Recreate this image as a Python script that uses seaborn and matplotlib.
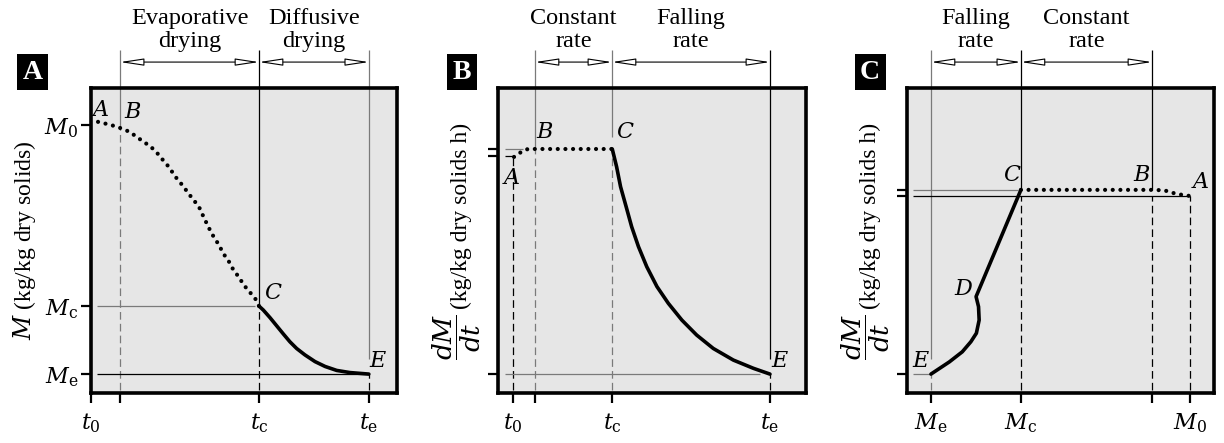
import matplotlib
matplotlib.use("Agg")
import matplotlib.pyplot as plt
import pandas as pd
import seaborn as sns

# ---------------- data (normalised axis units, 0..1) ----------------
# Panel A: moisture content M against drying time t
a_xticks = [0.0, 0.095, 0.549, 0.908]
a_xticklabels = [r"$t_0$", "", r"$t_\mathrm{c}$", r"$t_\mathrm{e}$"]
a_yticks = [0.062, 0.285, 0.879]
a_yticklabels = [r"$M_\mathrm{e}$", r"$M_\mathrm{c}$", r"$M_0$"]
a_evap_t = [0.023, 0.052, 0.078, 0.095, 0.127, 0.150, 0.173, 0.196, 0.216,
            0.235, 0.252, 0.268, 0.284, 0.301, 0.317, 0.333, 0.353, 0.369,
            0.382, 0.395, 0.412, 0.425, 0.438, 0.454, 0.467, 0.484, 0.497,
            0.516, 0.536, 0.549]
a_evap_m = [0.889, 0.882, 0.875, 0.869, 0.856, 0.839, 0.823, 0.807, 0.787,
            0.764, 0.744, 0.721, 0.698, 0.679, 0.656, 0.636, 0.610, 0.575,
            0.548, 0.522, 0.495, 0.472, 0.449, 0.426, 0.400, 0.380, 0.357,
            0.334, 0.311, 0.285]
a_diff_t = [0.549, 0.563, 0.585, 0.607, 0.629, 0.650, 0.672, 0.699, 0.732,
            0.765, 0.803, 0.846, 0.908]
a_diff_m = [0.285, 0.272, 0.247, 0.220, 0.193, 0.168, 0.146, 0.125, 0.103,
            0.087, 0.074, 0.067, 0.062]

# Panel B: drying rate dM/dt against time t
b_xticks = [0.049, 0.120, 0.370, 0.883]
b_xticklabels = [r"$t_0$", "", r"$t_\mathrm{c}$", r"$t_\mathrm{e}$"]
b_yticks = [0.062, 0.777, 0.800]
b_const_t = [0.052, 0.075, 0.097, 0.371]
b_const_r = [0.774, 0.790, 0.800, 0.800]
b_fall_t = [0.371, 0.385, 0.398, 0.416, 0.434, 0.456, 0.483, 0.516, 0.553,
            0.597, 0.645, 0.699, 0.764, 0.829, 0.883]
b_fall_r = [0.800, 0.742, 0.676, 0.611, 0.545, 0.480, 0.414, 0.349, 0.294,
            0.239, 0.190, 0.146, 0.108, 0.081, 0.062]

# Panel C: drying rate dM/dt against moisture content M
c_xticks = [0.078, 0.371, 0.798, 0.922]
c_xticklabels = [r"$M_\mathrm{e}$", r"$M_\mathrm{c}$", "", r"$M_0$"]
c_yticks = [0.062, 0.646, 0.666]
c_const_m = [0.371, 0.808, 0.840, 0.866, 0.899, 0.922]
c_const_r = [0.666, 0.666, 0.664, 0.656, 0.649, 0.646]
c_fall_m = [0.371, 0.225, 0.233, 0.235, 0.226, 0.208, 0.180, 0.138, 0.078]
c_fall_r = [0.666, 0.316, 0.283, 0.239, 0.196, 0.168, 0.135, 0.102, 0.062]

# ---------------- style ----------------
sns.set_theme(style="white", rc={
    "text.color": "black", "axes.labelcolor": "black",
    "xtick.color": "black", "ytick.color": "black",
    "axes.edgecolor": "black", "lines.scale_dashes": False,
})
plt.rcParams["font.family"] = ["Liberation Serif", "DejaVu Serif"]
plt.rcParams["mathtext.fontset"] = "dejavuserif"

GREY = "#7a7a7a"
DASH = (0, (5.5, 3.0))
DOTS = (0, (0.01, 5.5))
TOP = 1.125      # upper end of the phase guide lines
BRACKET = 1.085  # height of the phase arrows
TXT = 17.5

fig = plt.figure(figsize=(12.24, 4.43), dpi=100)
bottom, height = 50 / 443, 305 / 443
axA = fig.add_axes([91 / 1224, bottom, 306 / 1224, height])
axB = fig.add_axes([498 / 1224, bottom, 308 / 1224, height])
axC = fig.add_axes([907 / 1224, bottom, 307 / 1224, height])


def frame(ax, xt, xl, yt, yl):
    ax.set_facecolor("#e6e6e6")
    ax.set_xlim(0, 1)
    ax.set_ylim(0, 1)
    for s in ax.spines.values():
        s.set_linewidth(2.6)
        s.set_color("black")
        s.set_zorder(5)
    ax.set_xticks(xt)
    ax.set_xticklabels(xl)
    ax.set_yticks(yt)
    ax.set_yticklabels(yl)
    ax.tick_params(axis="both", direction="out", length=7, width=1.6,
                   bottom=True, left=True, labelsize=16)
    ax.tick_params(axis="x", pad=6)
    ax.tick_params(axis="y", pad=2)


def seg(ax, xs, ys, color, dashed=False, lw=0.9):
    ax.plot(xs, ys, color=color, lw=lw, ls=DASH if dashed else "-",
            clip_on=False, zorder=2, solid_capstyle="butt")


def curve(ax, xs, ys, dotted):
    df = pd.DataFrame({"x": xs, "y": ys})
    if dotted:
        sns.lineplot(data=df, x="x", y="y", ax=ax, sort=False, estimator=None,
                     color="black", lw=3.0, linestyle=DOTS,
                     dash_capstyle="round", zorder=3)
    else:
        sns.lineplot(data=df, x="x", y="y", ax=ax, sort=False, estimator=None,
                     color="black", lw=2.6, solid_capstyle="round",
                     solid_joinstyle="round", zorder=3)
    ax.set_xlabel("")
    ax.set_ylabel("")


def phases(ax, x0, x1, x2, t1, t2):
    for a, b in [(x0, x1), (x1, x2)]:
        ax.annotate("", xy=(b, BRACKET), xytext=(a, BRACKET),
                    xycoords="data", textcoords="data", annotation_clip=False,
                    arrowprops=dict(arrowstyle="<|-|>,head_length=1.45,head_width=0.22",
                                    facecolor="white", edgecolor="black", lw=0.8,
                                    shrinkA=0, shrinkB=0, mutation_scale=10))
    for (a, b), t in zip([(x0, x1), (x1, x2)], [t1, t2]):
        ax.text((a + b) / 2, 1.19, t, ha="center", va="center", fontsize=TXT,
                linespacing=1.12, clip_on=False)


def badge(ax, x, letter):
    ax.text(x, 1.052, letter, transform=ax.transAxes, ha="center", va="center",
            color="white", fontsize=20, fontweight="bold",
            bbox=dict(boxstyle="square,pad=0.2", fc="black", ec="none"))


def point(ax, x, y, name):
    ax.text(x, y, "$" + name + "$", ha="center", va="center", fontsize=16,
            zorder=4)


def rate_label(ax):
    ax.set_ylabel(r"$\dfrac{dM}{dt}$", fontsize=19, ha="center", va="center")
    ax.yaxis.set_label_coords(-0.133, 0.185)
    ax.text(-0.12, 0.582, "(kg/kg dry solids h)", transform=ax.transAxes,
            rotation=90, ha="center", va="center", fontsize=17)


# ---------------- panel A ----------------
frame(axA, a_xticks, a_xticklabels, a_yticks, a_yticklabels)
t0, tb, tc, te = a_xticks
me, mc, m0 = a_yticks
seg(axA, [tb, tb], [a_evap_m[3], TOP], GREY)
seg(axA, [tb, tb], [0.01, a_evap_m[3]], GREY, dashed=True)
seg(axA, [tc, tc], [mc, TOP], "black")
seg(axA, [tc, tc], [0.01, mc], "black", dashed=True)
seg(axA, [te, te], [0.11, TOP], GREY)
seg(axA, [te, te], [0.01, me], "black", dashed=True)
seg(axA, [0.02, 0.537], [mc, mc], GREY)
seg(axA, [0.02, te], [me, me], "black")
curve(axA, a_evap_t, a_evap_m, dotted=True)
curve(axA, a_diff_t, a_diff_m, dotted=False)
point(axA, 0.029, 0.925, "A")
point(axA, 0.137, 0.918, "B")
point(axA, 0.595, 0.325, "C")
point(axA, 0.938, 0.102, "E")
phases(axA, tb, tc, te, "Evaporative\ndrying", "Diffusive\ndrying")
badge(axA, -0.191, "A")
axA.set_ylabel(r"$M$ (kg/kg dry solids)", fontsize=17, ha="center", va="center")
axA.yaxis.set_label_coords(-0.216, 0.502)

# ---------------- panel B ----------------
frame(axB, b_xticks, b_xticklabels, b_yticks, ["", "", ""])
t0, tb, tc, te = b_xticks
rE, rA, rB = b_yticks
seg(axB, [t0, t0], [0.01, b_const_r[0]], "black", dashed=True)
seg(axB, [0.023, t0], [rA, rA], "black")
seg(axB, [0.023, 0.082], [rB, rB], GREY)
seg(axB, [tb, tb], [rB, TOP], GREY)
seg(axB, [tb, tb], [0.01, rB], GREY, dashed=True)
seg(axB, [tc, tc], [0.84, TOP], GREY)
seg(axB, [tc, tc], [0.01, rB], GREY, dashed=True)
seg(axB, [te, te], [0.11, TOP], "black")
seg(axB, [te, te], [0.01, rE], "black", dashed=True)
seg(axB, [0.023, 0.851], [rE, rE], GREY)
curve(axB, b_const_t, b_const_r, dotted=True)
curve(axB, b_fall_t, b_fall_r, dotted=False)
point(axB, 0.042, 0.702, "A")
point(axB, 0.153, 0.852, "B")
point(axB, 0.412, 0.852, "C")
point(axB, 0.916, 0.102, "E")
phases(axB, tb, tc, te, "Constant\nrate", "Falling\nrate")
badge(axB, -0.117, "B")
rate_label(axB)

# ---------------- panel C ----------------
frame(axC, c_xticks, c_xticklabels, c_yticks, ["", "", ""])
me, mc, mb, m0 = c_xticks
rE, rA, rC = c_yticks
seg(axC, [me, me], [0.11, TOP], GREY)
seg(axC, [me, me], [0.01, rE], GREY, dashed=True)
seg(axC, [0.02, me], [rE, rE], GREY)
seg(axC, [mc, mc], [rC, TOP], "black")
seg(axC, [mc, mc], [0.01, rA], "black", dashed=True)
seg(axC, [mb, mb], [rC, TOP], "black")
seg(axC, [mb, mb], [0.01, rA], "black", dashed=True)
seg(axC, [m0, m0], [0.01, rA], "black", dashed=True)
seg(axC, [0.02, 0.36], [rC, rC], GREY)
seg(axC, [0.02, m0], [rA, rA], "black")
curve(axC, c_const_m, c_const_r, dotted=True)
curve(axC, c_fall_m, c_fall_r, dotted=False)
point(axC, 0.342, 0.711, "C")
point(axC, 0.765, 0.711, "B")
point(axC, 0.954, 0.689, "A")
point(axC, 0.186, 0.338, "D")
point(axC, 0.046, 0.102, "E")
phases(axC, me, mc, mb, "Falling\nrate", "Constant\nrate")
badge(axC, -0.12, "C")
rate_label(axC)

fig.savefig("out.png", dpi=100)
